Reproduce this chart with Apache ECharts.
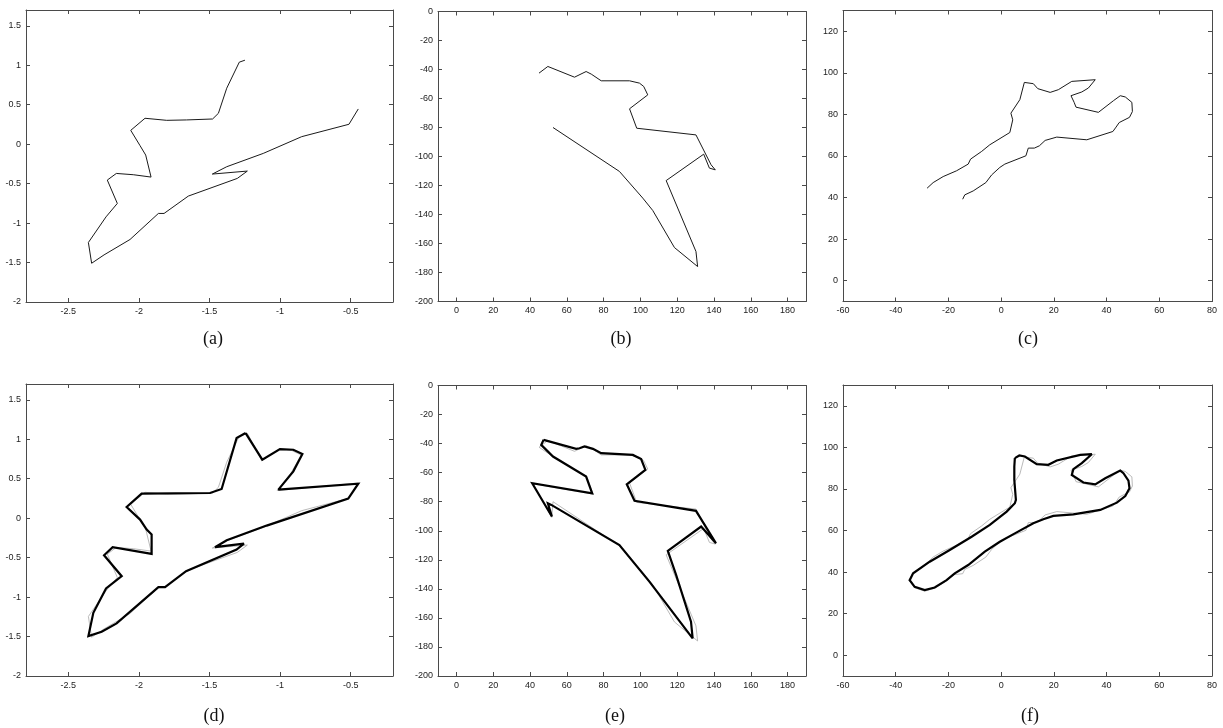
<!DOCTYPE html>
<html>
<head>
<meta charset="utf-8">
<script src="https://cdn.jsdelivr.net/npm/echarts@6/dist/echarts.min.js"></script>
<style>
html,body{margin:0;padding:0;background:#fff;}
#c{width:1223px;height:728px;}
</style>
</head>
<body>
<div id="c"></div>
<script>
// ---------- data ----------
// (a) partial contour, airplane 1
const aX = [-1.249,-1.289,-1.378,-1.437,-1.478,-1.662,-1.803,-1.957,-2.058,-1.992,-1.952,-1.914,-2.040,-2.160,-2.224,-2.153,-2.233,-2.358,-2.335,-2.247,-2.063,-1.862,-1.822,-1.650,-1.303,-1.232,-1.480,-1.378,-1.119,-0.847,-0.512,-0.446];
const aY = [1.064,1.039,0.709,0.391,0.319,0.307,0.302,0.328,0.175,-0.019,-0.138,-0.417,-0.387,-0.371,-0.455,-0.751,-0.921,-1.246,-1.509,-1.403,-1.208,-0.878,-0.878,-0.658,-0.434,-0.341,-0.379,-0.286,-0.117,0.095,0.252,0.446];
// (b) partial contour, airplane 2
const bX = [44.9,49.7,64.2,70.5,73.3,78.7,94.1,99.5,101.8,104.0,94.1,98.0,130.2,138.4,140.7,137.5,134.4,114.0,130.2,131.1,118.5,106.7,101.3,88.6,52.5];
const bY = [-42.5,-37.9,-45.3,-41.4,-43.2,-47.8,-47.8,-49.4,-51.7,-57.5,-67.1,-80.5,-85.1,-105.7,-109.2,-108.0,-98.4,-116.6,-165.5,-175.9,-162.8,-137.2,-128.7,-110.3,-80.0];
// (c) partial contour, wrench
const cX = [-28.1,-25.8,-22.0,-16.9,-12.5,-11.6,-7.4,-4.3,3.3,4.4,3.7,7.1,8.8,12.2,13.9,18.6,21.7,26.8,35.7,33.1,30.6,26.5,27.7,28.4,36.9,42.6,45.2,47.1,49.6,49.8,48.7,44.8,43.6,42.4,32.5,21.1,16.7,14.5,12.6,10.3,9.4,1.4,-0.5,-3.6,-5.8,-10.6,-13.8,-14.6];
const cY = [44.5,47.2,50.1,52.9,56.1,58.5,62.2,65.4,71.3,77.4,80.6,87.1,95.4,94.8,92.4,90.6,91.9,95.9,96.7,92.7,90.8,89.0,85.8,83.5,81.0,86.6,89.0,88.4,85.8,81.4,78.6,76.1,73.9,71.8,67.8,69.1,67.5,64.9,63.8,63.8,60.1,56.1,54.5,50.9,47.2,43.2,41.3,39.2];
// (d) completed contour (thick) and full reference contour (thin gray)
const dX = [-1.244,-1.308,-1.414,-1.496,-1.981,-2.087,-1.992,-1.945,-1.910,-1.910,-2.186,-2.247,-2.122,-2.233,-2.323,-2.358,-2.264,-2.158,-1.862,-1.815,-1.666,-1.308,-1.256,-1.461,-1.378,-1.095,-0.517,-0.446,-1.012,-0.906,-0.842,-0.906,-1.001,-1.126,-1.244];
const dY = [1.078,1.015,0.370,0.319,0.311,0.142,-0.018,-0.145,-0.208,-0.453,-0.368,-0.470,-0.735,-0.891,-1.199,-1.494,-1.440,-1.334,-0.874,-0.874,-0.672,-0.398,-0.322,-0.368,-0.280,-0.094,0.247,0.437,0.361,0.593,0.813,0.867,0.876,0.741,1.078];
const dRestX = [-1.02,-0.92,-0.85,-0.92,-1.01,-1.13,-1.23,-1.249];
const dRestY = [0.35,0.58,0.80,0.86,0.87,0.73,1.07,1.064];
// (e)
const eX = [47.4,46.1,52.5,70.5,73.8,41.2,51.9,49.7,51.6,88.6,104.9,128.4,127.5,119.4,114.9,133.0,141.1,130.2,96.8,92.6,102.7,100.4,95.9,78.7,74.2,69.6,66.9,65.1,47.4];
const eY = [-37.4,-40.9,-48.9,-62.7,-74.2,-67.3,-90.2,-81.1,-82.2,-109.8,-135.0,-174.1,-162.6,-130.4,-113.9,-97.1,-108.6,-86.3,-79.4,-68.0,-58.1,-50.7,-47.8,-46.6,-43.6,-42.0,-43.2,-43.6,-37.4];
const eRestX = [51.8,41.5,74.3,70.9,52.9,44.9];
const eRestY = [-90.8,-67.6,-74.8,-63.1,-49.3,-42.5];
// (f)
const fX = [5.2,6.9,9.0,13.5,17.9,21.1,30.0,34.4,30.6,27.4,26.8,31.2,35.7,39.5,45.2,46.4,48.3,48.7,47.1,43.9,37.6,27.4,19.8,16.0,12.2,5.2,-0.5,-6.2,-12.5,-17.6,-20.7,-25.2,-29.0,-32.8,-34.7,-33.4,-27.1,-19.5,-11.2,-4.3,2.1,5.2,5.6,5.0,5.0,5.2];
const fY = [94.8,96.1,95.6,91.9,91.6,93.7,96.4,96.7,92.4,89.5,86.7,83.1,82.2,85.1,88.8,87.6,84.0,80.3,76.6,73.4,69.9,67.8,67.0,65.4,63.5,58.6,54.6,49.8,43.4,39.4,36.1,32.6,31.3,32.9,36.1,39.4,45.0,50.6,57.0,62.7,69.1,73.1,74.7,84.3,90.8,94.8];
const fRestX = [-17.8,-21.0,-25.3,-29.0,-32.9,-35.0,-33.6,-28.1];
const fRestY = [38.8,35.6,32.2,30.8,32.5,36.0,39.3,44.5];

// tick labels
const ticksPlaneX = [-2.5,-2,-1.5,-1,-0.5];
const ticksPlaneY = [-2,-1.5,-1,-0.5,0,0.5,1,1.5];
const ticksJetX = [0,20,40,60,80,100,120,140,160,180];
const ticksJetY = [-200,-180,-160,-140,-120,-100,-80,-60,-40,-20,0];
const ticksWrenchX = [-60,-40,-20,0,20,40,60,80];
const ticksWrenchY = [0,20,40,60,80,100,120];
const panelLabels = ['(a)','(b)','(c)','(d)','(e)','(f)'];

// ---------- build ----------
const zip = (xs, ys) => xs.map((x, i) => [x, ys[i]]);

const panels = [
  {grid:{left:26, top:10, width:367, height:292},  xr:[-2.8,-0.2], yr:[-2,1.7], xt:ticksPlaneX, yt:ticksPlaneY, lab:[213,339]},
  {grid:{left:438, top:11.5, width:368, height:290}, xr:[-10,190], yr:[-200,0], xt:ticksJetX, yt:ticksJetY, lab:[621,339]},
  {grid:{left:843, top:10.5, width:369, height:291}, xr:[-60,80], yr:[-10,130], xt:ticksWrenchX, yt:ticksWrenchY, lab:[1028,339]},
  {grid:{left:26, top:384, width:367, height:292},  xr:[-2.8,-0.2], yr:[-2,1.7], xt:ticksPlaneX, yt:ticksPlaneY, lab:[214,716]},
  {grid:{left:438, top:385.5, width:368, height:290.5}, xr:[-10,190], yr:[-200,0], xt:ticksJetX, yt:ticksJetY, lab:[615,716]},
  {grid:{left:843, top:385, width:369, height:291}, xr:[-60,80], yr:[-10,130], xt:ticksWrenchX, yt:ticksWrenchY, lab:[1030,716]}
];

const frameColor = '#4a4a4a';
const labelColor = '#222';
const fmt = v => String(v);

const grids = [], xAxes = [], yAxes = [], graphics = [];
panels.forEach((p, i) => {
  grids.push(Object.assign({show:false, containLabel:false}, p.grid));
  ['bottom','top'].forEach((pos, k) => {
    xAxes.push({
      type:'value', gridIndex:i, position:pos, min:p.xr[0], max:p.xr[1],
      axisLine:{show:true, onZero:false, lineStyle:{color:frameColor, width:1}},
      axisTick:{show:true, inside:true, length:4, customValues:p.xt, lineStyle:{color:frameColor, width:1}},
      axisLabel:{show:k===0, customValues:p.xt, formatter:fmt, fontSize:9, color:labelColor, margin:5, fontFamily:'Liberation Sans, Arial, sans-serif'},
      splitLine:{show:false}
    });
  });
  ['left','right'].forEach((pos, k) => {
    yAxes.push({
      type:'value', gridIndex:i, position:pos, min:p.yr[0], max:p.yr[1],
      axisLine:{show:true, onZero:false, lineStyle:{color:frameColor, width:1}},
      axisTick:{show:true, inside:true, length:4, customValues:p.yt, lineStyle:{color:frameColor, width:1}},
      axisLabel:{show:k===0, customValues:p.yt, formatter:fmt, fontSize:9, color:labelColor, margin:5, fontFamily:'Liberation Sans, Arial, sans-serif'},
      splitLine:{show:false}
    });
  });
  graphics.push({
    type:'text', x:p.lab[0], y:p.lab[1],
    style:{text:panelLabels[i], font:'18px "Liberation Serif", "Times New Roman", serif', fill:'#111', textAlign:'center', textVerticalAlign:'middle'}
  });
});

function line(i, data, color, width) {
  return {type:'line', xAxisIndex:2*i, yAxisIndex:2*i, data:data, showSymbol:false, symbol:'none',
    lineStyle:{color:color, width:width, join:'miter', miterLimit:2.5}, silent:true, animation:false, clip:true, z:width>1.5?3:2};
}

const thin = '#1a1a1a', gray = '#a8a8a8', thick = '#000';
const series = [
  line(0, zip(aX, aY), thin, 1),
  line(1, zip(bX, bY), thin, 1),
  line(2, zip(cX, cY), thin, 1),
  line(3, zip(aX.concat(dRestX), aY.concat(dRestY)), gray, 0.8),
  line(3, zip(dX, dY), thick, 2.2),
  line(4, zip(bX.concat(eRestX), bY.concat(eRestY)), gray, 0.8),
  line(4, zip(eX, eY), thick, 2.2),
  line(5, zip(cX.concat(fRestX), cY.concat(fRestY)), gray, 0.8),
  line(5, zip(fX, fY), thick, 2.2)
];

const chart = echarts.init(document.getElementById('c'), null, {renderer:'canvas'});
chart.setOption({
  backgroundColor:'#fff',
  animation:false,
  grid:grids, xAxis:xAxes, yAxis:yAxes, series:series, graphic:graphics
});
</script>
</body>
</html>
